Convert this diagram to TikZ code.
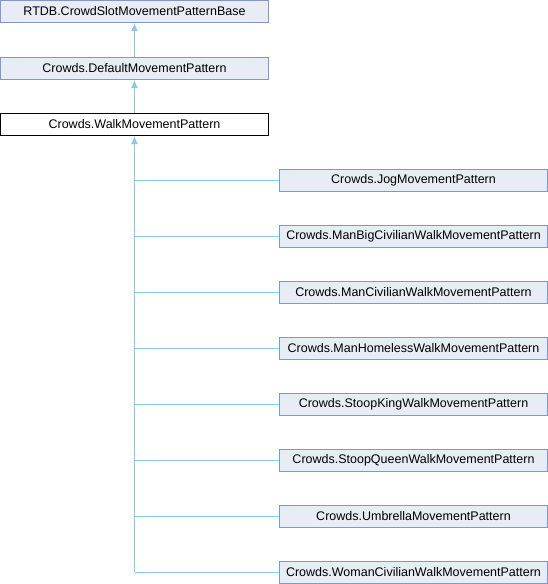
\documentclass[tikz,border=0pt]{standalone}
\usepackage{fontspec}
\setmainfont{Liberation Sans}
\usetikzlibrary{arrows.meta}
\definecolor{boxfill}{HTML}{E8ECF5}
\definecolor{boxdraw}{HTML}{8097C9}
\definecolor{edgecol}{HTML}{8CC8EA}
\tikzset{
  cls/.style={draw=boxdraw, fill=boxfill, line width=1pt, minimum width=268pt, minimum height=22pt, inner sep=0pt, font=\fontsize{12.5}{14}\selectfont},
  curcls/.style={cls, draw=black, fill=white},
  edgeline/.style={draw=edgecol, line width=1pt},
  inh/.style={edgeline, {Latex[length=8pt,width=7pt]}-}
}
\begin{document}
\begin{tikzpicture}[x=1pt,y=-1pt]
\useasboundingbox (0,0) rectangle (548,584);
\node[cls] (base) at (134.5,11.5) {RTDB.CrowdSlotMovementPatternBase};
\node[cls] (dmp) at (134.5,68.5) {Crowds.DefaultMovementPattern};
\node[curcls] (wmp) at (134.5,124.5) {Crowds.WalkMovementPattern};
\node[cls] (c1) at (413.5,180) {Crowds.JogMovementPattern};
\node[cls] (c2) at (413.5,236) {Crowds.ManBigCivilianWalkMovementPattern};
\node[cls] (c3) at (413.5,292) {Crowds.ManCivilianWalkMovementPattern};
\node[cls] (c4) at (413.5,348) {Crowds.ManHomelessWalkMovementPattern};
\node[cls] (c5) at (413.5,404) {Crowds.StoopKingWalkMovementPattern};
\node[cls] (c6) at (413.5,460) {Crowds.StoopQueenWalkMovementPattern};
\node[cls] (c7) at (413.5,516) {Crowds.UmbrellaMovementPattern};
\node[cls] (c8) at (413.5,572) {Crowds.WomanCivilianWalkMovementPattern};
\coordinate (trunkend) at (c8.west -| wmp.south);
\draw[inh] (base.south) -- (dmp.north);
\draw[inh] (dmp.south) -- (wmp.north);
\draw[inh] (wmp.south) -- (trunkend);
\foreach \c in {c1,c2,c3,c4,c5,c6,c7,c8}
  \draw[edgeline] (\c.west) -- (\c.west -| wmp.south);
\end{tikzpicture}
\end{document}
